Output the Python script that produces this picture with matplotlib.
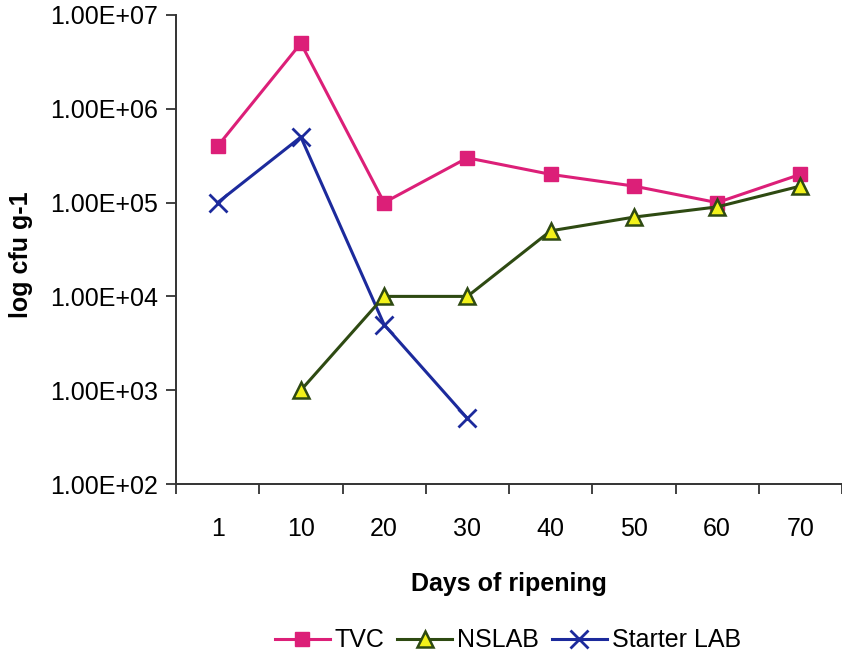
import matplotlib
matplotlib.use("Agg")
import matplotlib.pyplot as plt
from matplotlib.ticker import FixedLocator, NullFormatter, FixedFormatter

plt.rcParams['font.family'] = ['Liberation Sans', 'DejaVu Sans']

days = ["1", "10", "20", "30", "40", "50", "60", "70"]
tvc = [4e5, 5e6, 1e5, 3e5, 2e5, 1.5e5, 1e5, 2e5]
nslab = [None, 1e3, 1e4, 1e4, 5e4, 7e4, 9e4, 1.5e5]
starter = [1e5, 5e5, 5e3, 5e2, None, None, None, None]
ytick_vals = [1e2, 1e3, 1e4, 1e5, 1e6, 1e7]
ytick_labels = ["1.00E+02", "1.00E+03", "1.00E+04", "1.00E+05", "1.00E+06", "1.00E+07"]

fig = plt.figure(figsize=(8.42, 6.56), dpi=100)
ax = fig.add_axes([176/842, 1-484/656, 1-176/842, (484-15)/656])

x = list(range(len(days)))

def pts(vals):
    xs = [i for i, v in zip(x, vals) if v is not None]
    ys = [v for v in vals if v is not None]
    return xs, ys

xs, ys = pts(tvc)
ax.plot(xs, ys, color='#DC1F78', lw=2.2, marker='s', ms=10.5, mfc='#DC1F78', mec='#DC1F78', label='TVC', clip_on=False, zorder=3)
xs, ys = pts(nslab)
ax.plot(xs, ys, color='#2E4A12', lw=2.2, marker='^', ms=11, mfc='#F2F21A', mec='#2E4A12', mew=1.8, label='NSLAB', clip_on=False, zorder=4)
xs, ys = pts(starter)
ax.plot(xs, ys, color='#1C2A9C', lw=2.2, marker='x', ms=13, mew=2, label='Starter LAB', clip_on=False, zorder=3)

ax.set_yscale('log')
ax.set_ylim(1e2, 1e7)
ax.yaxis.set_major_locator(FixedLocator(ytick_vals))
ax.yaxis.set_major_formatter(FixedFormatter(ytick_labels))
ax.yaxis.set_minor_locator(FixedLocator([]))
ax.set_xlim(-0.5, len(days) - 0.5)
ax.set_xticks([i - 0.5 for i in range(len(days) + 1)])
ax.xaxis.set_major_formatter(NullFormatter())
ax.set_xticks(x, minor=True)
ax.set_xticklabels(days, minor=True)
ax.tick_params(axis='x', which='minor', length=0, labelsize=18, pad=24)
ax.tick_params(axis='x', which='major', length=7, width=1.3, color='#333333')
ax.tick_params(axis='y', which='major', length=7, width=1.3, color='#333333', labelsize=18, pad=6)

for s in ['top', 'right']:
    ax.spines[s].set_visible(False)
for s in ['left', 'bottom']:
    ax.spines[s].set_linewidth(1.4)
    ax.spines[s].set_color('#333333')

ax.set_xlabel('Days of ripening', fontsize=18, fontweight='bold', labelpad=22)
ax.set_ylabel('log cfu g-1', fontsize=18, fontweight='bold')
ax.yaxis.set_label_coords(-0.214, 0.49)

fig.legend(loc='center', bbox_to_anchor=(0.603, 0.024), ncol=3, frameon=False,
           fontsize=18, handlelength=2.2, handletextpad=0.2, columnspacing=0.5)

fig.savefig('out.png', dpi=100)
